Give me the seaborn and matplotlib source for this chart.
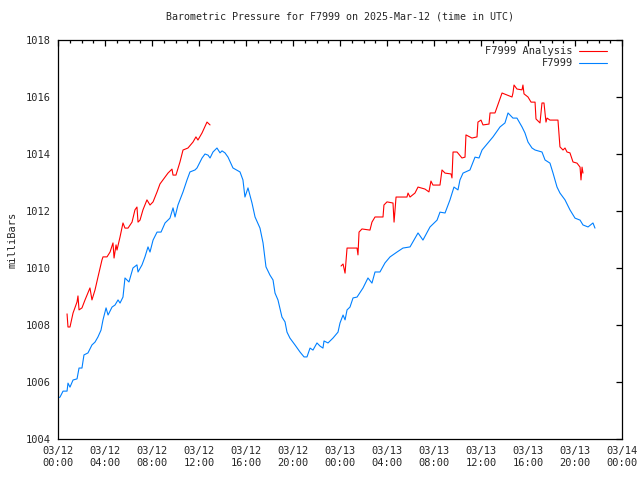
"""
Barometric pressure for station F7999, 2025-03-12 .. 2025-03-13 (UTC).
Measured series plus the analysis series, gnuplot-like look.
"""

import numpy as np
import pandas as pd
import matplotlib
matplotlib.use("Agg")
import matplotlib.pyplot as plt
import matplotlib.dates as mdates
import seaborn as sns

# Configuration
START = pd.Timestamp("2025-03-12 00:00")
END = pd.Timestamp("2025-03-14 00:00")
OUT_PATH = "out.png"
TITLE = "Barometric Pressure for F7999 on 2025-Mar-12 (time in UTC)"
RED = "#ff0000"
BLUE = "#0080ff"

# F7999 observations: hours after START, pressure in mb
obs_hours = [
    0.00, 0.17, 0.43, 0.77, 0.85, 1.02, 1.28, 1.62, 1.79, 2.04, 2.21, 2.55,
    2.89, 3.15, 3.40, 3.66, 3.83, 4.09, 4.26, 4.60, 4.85, 5.11, 5.28, 5.53,
    5.70, 6.04, 6.38, 6.72, 6.81, 7.15, 7.40, 7.66, 7.83, 8.09, 8.43, 8.77,
    9.11, 9.53, 9.79, 9.96, 10.21, 10.64, 10.98, 11.23, 11.66, 11.83, 12.26,
    12.51, 12.77, 12.94, 13.19, 13.53, 13.79, 13.96, 14.21, 14.47, 14.89,
    15.49, 15.74, 15.91, 16.17, 16.51, 16.77, 17.19, 17.45, 17.70, 18.04,
    18.30, 18.47, 18.72, 19.06, 19.32, 19.49, 19.74, 20.17, 20.60, 20.94,
    21.19, 21.45, 21.70, 22.04, 22.30, 22.55, 22.64, 22.98, 23.40, 23.83,
    24.00, 24.26, 24.43, 24.60, 24.85, 25.11, 25.45, 25.96, 26.38, 26.72,
    26.98, 27.40, 27.83, 28.26, 28.85, 29.36, 29.96, 30.64, 31.06, 31.66,
    32.26, 32.51, 32.94, 33.36, 33.70, 34.04, 34.21, 34.47, 35.06, 35.49,
    35.83, 36.09, 36.60, 37.02, 37.62, 38.04, 38.30, 38.72, 39.06, 39.49,
    39.74, 40.00, 40.34, 40.60, 41.19, 41.45, 41.87, 42.13, 42.47, 42.72,
    43.15, 43.57, 44.00, 44.43, 44.68, 45.11, 45.53, 45.70,
]
obs_mb = [
    1005.44, 1005.47, 1005.68, 1005.68, 1005.96, 1005.82, 1006.07, 1006.11,
    1006.49, 1006.49, 1006.95, 1007.02, 1007.30, 1007.40, 1007.58, 1007.82,
    1008.18, 1008.60, 1008.35, 1008.63, 1008.70, 1008.88, 1008.77, 1008.98,
    1009.65, 1009.51, 1010.00, 1010.11, 1009.86, 1010.11, 1010.39, 1010.74,
    1010.56, 1010.98, 1011.26, 1011.26, 1011.58, 1011.75, 1012.11, 1011.79,
    1012.21, 1012.67, 1013.09, 1013.37, 1013.44, 1013.51, 1013.86, 1014.00,
    1013.96, 1013.86, 1014.07, 1014.21, 1014.04, 1014.11, 1014.04, 1013.89,
    1013.51, 1013.37, 1013.09, 1012.49, 1012.81, 1012.28, 1011.79, 1011.40,
    1010.88, 1010.04, 1009.75, 1009.58, 1009.12, 1008.88, 1008.28, 1008.11,
    1007.75, 1007.54, 1007.30, 1007.05, 1006.88, 1006.88, 1007.19, 1007.12,
    1007.37, 1007.26, 1007.19, 1007.44, 1007.37, 1007.54, 1007.75, 1008.07,
    1008.35, 1008.18, 1008.53, 1008.63, 1008.95, 1008.98, 1009.30, 1009.65,
    1009.47, 1009.86, 1009.86, 1010.18, 1010.39, 1010.56, 1010.70, 1010.74,
    1011.23, 1010.98, 1011.44, 1011.68, 1011.96, 1011.93, 1012.39, 1012.84,
    1012.74, 1013.09, 1013.33, 1013.44, 1013.89, 1013.86, 1014.14, 1014.39,
    1014.60, 1014.95, 1015.09, 1015.44, 1015.26, 1015.26, 1014.95, 1014.74,
    1014.42, 1014.21, 1014.14, 1014.07, 1013.79, 1013.68, 1013.33, 1012.84,
    1012.63, 1012.39, 1012.04, 1011.75, 1011.68, 1011.51, 1011.44, 1011.58,
    1011.40,
]

# F7999 Analysis, first day (segment 1)
ana1_hours = [
    0.77, 0.85, 1.02, 1.28, 1.62, 1.70, 1.79, 2.04, 2.30, 2.72, 2.89, 3.15,
    3.40, 3.74, 3.83, 4.17, 4.43, 4.68, 4.77, 4.94, 5.02, 5.28, 5.53, 5.70,
    5.96, 6.30, 6.55, 6.72, 6.81, 6.98, 7.23, 7.57, 7.83, 8.09, 8.43, 8.68,
    9.36, 9.70, 9.79, 10.04, 10.38, 10.64, 11.06, 11.49, 11.74, 11.91, 12.26,
    12.68, 12.94,
]
ana1_mb = [
    1008.39, 1007.93, 1007.93, 1008.42, 1008.81, 1009.02, 1008.53, 1008.60,
    1008.88, 1009.30, 1008.88, 1009.23, 1009.68, 1010.28, 1010.39, 1010.39,
    1010.56, 1010.88, 1010.35, 1010.81, 1010.63, 1011.09, 1011.58, 1011.40,
    1011.40, 1011.61, 1012.04, 1012.14, 1011.61, 1011.68, 1012.04, 1012.39,
    1012.21, 1012.32, 1012.67, 1012.95, 1013.33, 1013.47, 1013.26, 1013.26,
    1013.72, 1014.14, 1014.21, 1014.42, 1014.60, 1014.49, 1014.74, 1015.12,
    1015.02,
]

# F7999 Analysis, second day (segment 2)
ana2_hours = [
    24.09, 24.26, 24.43, 24.60, 25.45, 25.53, 25.62, 25.87, 26.55, 26.72,
    26.98, 27.66, 27.74, 28.00, 28.51, 28.60, 28.77, 29.70, 29.79, 29.96,
    30.38, 30.64, 31.23, 31.57, 31.74, 31.91, 32.51, 32.68, 32.94, 33.45,
    33.53, 33.62, 33.96, 34.38, 34.64, 34.72, 35.23, 35.66, 35.74, 36.00,
    36.17, 36.68, 36.77, 37.19, 37.79, 38.64, 38.72, 38.81, 39.06, 39.49,
    39.57, 39.66, 40.00, 40.26, 40.60, 40.68, 41.02, 41.19, 41.36, 41.53,
    41.62, 41.87, 42.55, 42.72, 42.98, 43.15, 43.32, 43.57, 43.83, 44.17,
    44.43, 44.51, 44.60, 44.68,
]
ana2_mb = [
    1010.07, 1010.14, 1009.82, 1010.70, 1010.70, 1010.46, 1011.26, 1011.37,
    1011.33, 1011.61, 1011.79, 1011.79, 1012.21, 1012.32, 1012.28, 1011.61,
    1012.49, 1012.49, 1012.63, 1012.49, 1012.63, 1012.84, 1012.77, 1012.67,
    1013.05, 1012.91, 1012.91, 1013.44, 1013.33, 1013.30, 1013.16, 1014.07,
    1014.07, 1013.86, 1013.89, 1014.67, 1014.56, 1014.60, 1015.12, 1015.19,
    1015.02, 1015.05, 1015.44, 1015.44, 1016.14, 1016.00, 1016.14, 1016.42,
    1016.28, 1016.25, 1016.42, 1016.11, 1016.00, 1015.82, 1015.82, 1015.23,
    1015.09, 1015.79, 1015.79, 1015.12, 1015.26, 1015.19, 1015.19, 1014.25,
    1014.14, 1014.21, 1014.07, 1014.04, 1013.72, 1013.68, 1013.54, 1013.09,
    1013.54, 1013.33,
]

y_ticks = [1004, 1006, 1008, 1010, 1012, 1014, 1016, 1018]


def to_frame(hours, mb):
    """Build a small time/pressure table."""
    return pd.DataFrame({
        "time": START + pd.to_timedelta(hours, unit="h"),
        "mb": mb,
    })


sns.set_style("white")
plt.rcParams["font.family"] = ["DejaVu Sans Mono", "DejaVu Sans"]
plt.rcParams["font.size"] = 7.5

fig = plt.figure(figsize=(6.4, 4.8), dpi=100)
ax = fig.add_axes([58 / 640, 1 - 439 / 480, 564 / 640, 399 / 480])

# Analysis first so it comes first in the legend
sns.lineplot(data=to_frame(ana1_hours, ana1_mb), x="time", y="mb",
             color=RED, linewidth=0.8, label="F7999 Analysis", ax=ax)
sns.lineplot(data=to_frame(ana2_hours, ana2_mb), x="time", y="mb",
             color=RED, linewidth=0.8, label="_nolegend_", ax=ax)
sns.lineplot(data=to_frame(obs_hours, obs_mb), x="time", y="mb",
             color=BLUE, linewidth=0.8, label="F7999", ax=ax)

ax.set_xlim(START, END)
ax.set_ylim(y_ticks[0], y_ticks[-1])
ax.set_yticks(y_ticks)
ax.xaxis.set_major_locator(mdates.HourLocator(byhour=range(0, 24, 4)))
ax.xaxis.set_minor_locator(mdates.HourLocator())
ax.xaxis.set_major_formatter(mdates.DateFormatter("%m/%d\n%H:%M"))

ax.tick_params(which="both", direction="in", top=True, right=True,
               color="black", width=0.9, labelsize=7.5)
ax.tick_params(which="major", length=4.5, pad=5)
ax.tick_params(which="minor", length=2.3)
for side in ax.spines.values():
    side.set_color("black")
    side.set_linewidth(0.9)

ax.set_xlabel("")
ax.set_ylabel("milliBars", fontsize=7.5, labelpad=6)
ax.set_title(TITLE, fontsize=7.2, pad=15)

ax.legend(loc="upper right", frameon=False, markerfirst=False,
          handlelength=2.7, handletextpad=0.6, labelspacing=0.2,
          borderaxespad=0.2, fontsize=7.5, bbox_to_anchor=(0.985, 1.0))

fig.savefig(OUT_PATH, dpi=100)
plt.close(fig)
